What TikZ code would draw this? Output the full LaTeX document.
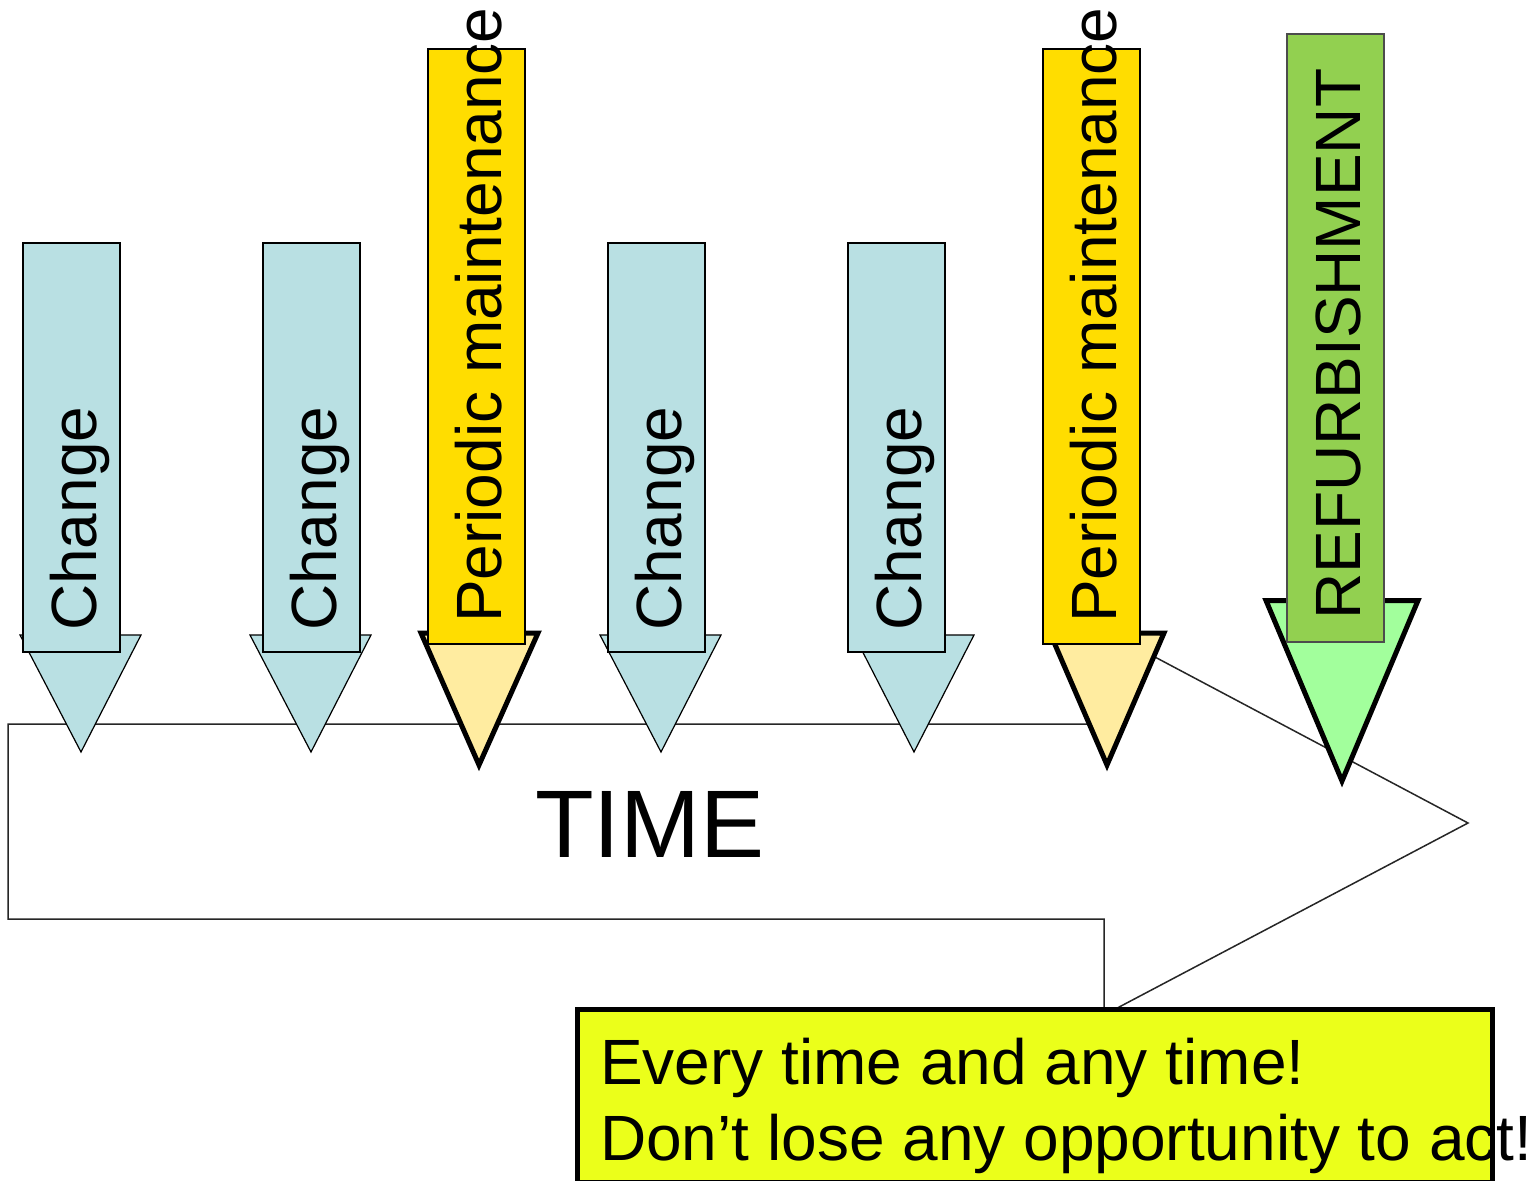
\documentclass[tikz,border=0pt]{standalone}
\usepackage{fontspec}
\setmainfont{Liberation Sans}
\definecolor{chgfill}{RGB}{185,224,227}
\definecolor{perfill}{RGB}{255,221,0}
\definecolor{perhead}{RGB}{255,236,160}
\definecolor{reffill}{RGB}{146,208,80}
\definecolor{refhead}{RGB}{162,255,156}
\definecolor{notefill}{RGB}{235,255,26}
\tikzset{
  timearrow/.style={draw=black!85, line width=1.5pt, fill=white, line join=miter},
  chghead/.style={draw=black, line width=1.2pt, fill=chgfill, line join=miter},
  chgbar/.style={draw=black, line width=1.6pt, fill=chgfill},
  perheadst/.style={draw=black, line width=5pt, fill=perhead, line join=miter},
  perbar/.style={draw=black, line width=2pt, fill=perfill},
  refheadst/.style={draw=black, line width=5pt, fill=refhead, line join=miter},
  refbar/.style={draw=black!70, line width=1.2pt, fill=reffill},
  vlabel/.style={rotate=90, anchor=base west, inner sep=0pt, font=\fontsize{64}{64}\selectfont},
  hlabel/.style={anchor=base west, inner sep=0pt, font=\fontsize{64}{64}\selectfont},
}
\begin{document}
\begin{tikzpicture}[x=1pt,y=-1pt]
\useasboundingbox (0,0) rectangle (1527,1181);
\fill[white] (0,0) rectangle (1527,1181);

% TIME block arrow
\draw[timearrow] (8,724) -- (1104,724) -- (1104,630) -- (1468,823) -- (1104,1015) -- (1104,919) -- (8,919) -- cycle;
\node[anchor=base west, inner sep=0pt, font=\fontsize{96}{96}\selectfont] (time) at (535,857) {TIME};

% Change 1
\draw[chghead] (20,635) -- (141,635) -- (81,752) -- cycle;
\draw[chgbar] (23,243) rectangle (120,652);
\node[vlabel] (c1) at (96,631) {Change};
% Change 2
\draw[chghead] (250,635) -- (371,635) -- (311,752) -- cycle;
\draw[chgbar] (263,243) rectangle (360,652);
\node[vlabel] (c2) at (336,631) {Change};
% Periodic 1
\draw[perheadst] (421,633) -- (538,633) -- (479,765) -- cycle;
\draw[perbar] (428,48.5) rectangle (525,644);
\node[vlabel] (p1) at (501,623) {Periodic maintenance};
% Change 3
\draw[chghead] (600,635) -- (721,635) -- (661,752) -- cycle;
\draw[chgbar] (608,243) rectangle (705,652);
\node[vlabel] (c3) at (681,631) {Change};
% Change 4
\draw[chghead] (854,635) -- (974,635) -- (914,752) -- cycle;
\draw[chgbar] (848,243) rectangle (945,652);
\node[vlabel] (c4) at (921,631) {Change};
% Periodic 2
\draw[perheadst] (1050,633) -- (1164,633) -- (1107,765) -- cycle;
\draw[perbar] (1043,48.5) rectangle (1140,644);
\node[vlabel] (p2) at (1116,623) {Periodic maintenance};
% Refurbishment
\draw[refheadst] (1266,600.5) -- (1418,600.5) -- (1342,781) -- cycle;
\draw[refbar] (1287,34) rectangle (1384,642);
\node[vlabel] (r1) at (1360,620) {REFURBISHMENT};

% Note box
\fill[notefill] (577.5,1009.5) rectangle (1492.5,1182);
\node[hlabel] (n1) at (600,1084) {Every time and any time!};
\node[hlabel] (n2) at (600,1160) {Don’t lose any opportunity to act!};
\draw[black, line width=5pt] (577.5,1009.5) rectangle (1492.5,1182);
\end{tikzpicture}
\end{document}
